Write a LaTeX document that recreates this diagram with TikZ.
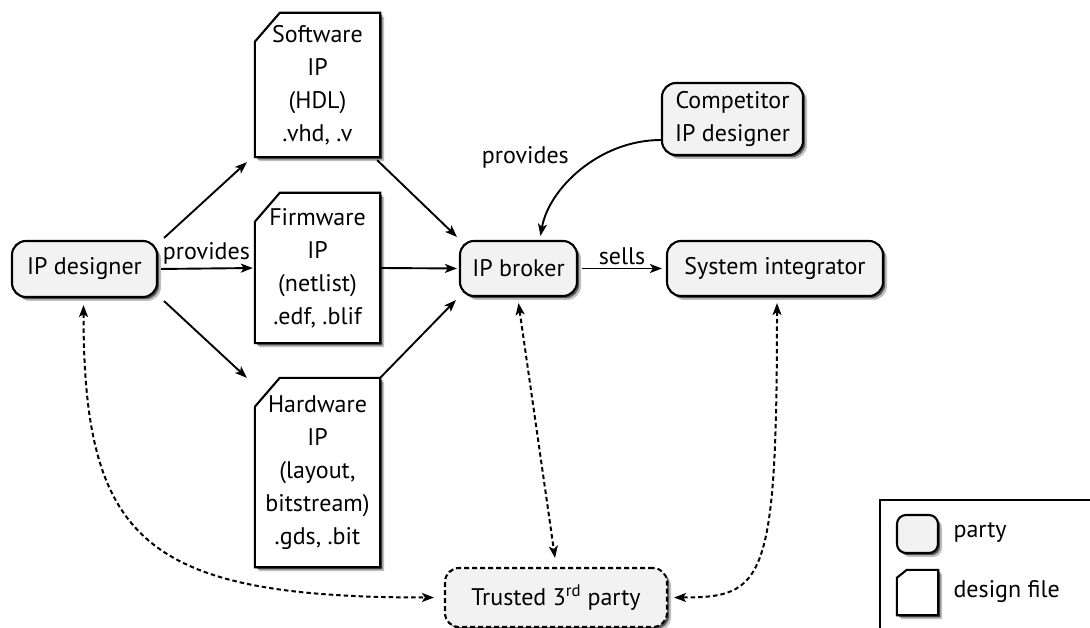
\documentclass[tikz,border=0pt]{standalone}
\usepackage{fontspec}
\setmainfont{PT Sans}
\usetikzlibrary{arrows.meta,shadows,backgrounds,calc}
\newcommand\docshape[3]{%
 \fill[black,opacity=0.25,transform canvas={xshift=4pt,yshift=-4pt}] ([yshift=-#3pt]#1.north west) -- ([xshift=#2pt]#1.north west) -- (#1.north east) -- (#1.south east) -- (#1.south west) -- cycle;
 \fill[black,opacity=0.55,transform canvas={xshift=2.2pt,yshift=-2.2pt}] ([yshift=-#3pt]#1.north west) -- ([xshift=#2pt]#1.north west) -- (#1.north east) -- (#1.south east) -- (#1.south west) -- cycle;
 \filldraw[fill=white,line width=2.1pt,line join=miter] ([yshift=-#3pt]#1.north west) -- ([xshift=#2pt]#1.north west) -- (#1.north east) -- (#1.south east) -- (#1.south west) -- cycle;
}
\begin{document}
\begin{tikzpicture}[x=1pt,y=-1pt,
 font=\fontsize{24}{33}\selectfont,
 party/.style={draw, line width=2.1pt, rounded corners=14pt, fill=black!5, inner sep=0pt, align=center,
   drop shadow={shadow xshift=4pt,shadow yshift=-4pt,opacity=0.25,fill=black},
   drop shadow={shadow xshift=2.2pt,shadow yshift=-2.2pt,opacity=0.55,fill=black}},
 docnode/.style={inner sep=0pt, minimum width=125pt, align=center},
 arr/.style={-{Stealth[length=12pt,width=9pt,inset=3pt]}, line width=1.9pt},
 dotarr/.style={{Stealth[length=12pt,width=9pt,inset=3pt]}-{Stealth[length=12pt,width=9pt,inset=3pt]}, line width=2pt, dash pattern=on 4.5pt off 3pt},
 lbl/.style={inner sep=3pt}
]
\useasboundingbox (0,0) rectangle (1090,628);

% parties
\node[party, minimum width=145pt, minimum height=56pt] (ipd) at (84.5,269) {IP designer};
\node[party, minimum width=117pt, minimum height=55pt] (br) at (518.5,268.5) {IP broker};
\node[party, minimum width=216pt, minimum height=55pt] (si) at (775,268.5) {System integrator};
\node[party, minimum width=141pt, minimum height=72pt] (comp) at (732.5,119) {Competitor\\IP designer};
\node[party, dash pattern=on 5pt off 3pt, minimum width=222pt, minimum height=59pt] (tr) at (556,597.5) {Trusted 3\textsuperscript{rd} party};

% design files
\node[docnode, minimum height=144pt] (sw) at (317.5,85) {Software\\IP\\(HDL)\\.vhd, .v};
\node[docnode, minimum height=150pt] (fw) at (317.5,268) {Firmware\\IP\\(netlist)\\.edf, .blif};
\node[docnode, minimum height=189pt] (hw) at (317.5,472.5) {Hardware\\IP\\(layout,\\bitstream)\\.gds, .bit};

% legend
\draw[line width=1.8pt] (880,500) rectangle (1100,640);
\node[party, rounded corners=9pt, minimum width=41pt, minimum height=38pt] (lp) at (917.5,534) {};
\node[anchor=west] (lpt) at (950,532) {party};
\node[docnode, minimum width=41pt, minimum height=45pt] (ld) at (917.5,592.5) {};
\node[anchor=west] (ldt) at (950,592) {design file};

\begin{scope}[on background layer]
 \docshape{sw}{25}{29}
 \docshape{fw}{25}{29}
 \docshape{hw}{25}{29}
 \docshape{ld}{10}{8}
\end{scope}

% connectors
\draw[arr] ([shift={(6,-2)}]ipd.north east) -- ([shift={(-8,5)}]sw.south west);
\draw[arr, shorten <=3pt, shorten >=2pt] (ipd.east) -- node[lbl, above] (lprov) {provides} (fw.west);
\draw[arr] ([shift={(6,3)}]ipd.south east) -- ([shift={(-8,0)}]hw.north west);
\draw[arr] ([shift={(-3,3)}]sw.south east) -- ([shift={(-2,-3)}]br.north west);
\draw[arr, shorten >=2pt] (fw.east) -- (br.west);
\draw[arr] (hw.north east) -- ([shift={(-3,3)}]br.south west);
\draw[arr] ([shift={(0,21)}]comp.west) .. controls +(-62,0) and +(8,-47) .. ([shift={(22,-4)}]br.north)
   node[pos=0.45, anchor=east, shift={(-14,-8)}] (lprov2) {provides};
\draw[arr, shorten <=4pt, shorten >=4pt] (br.east) -- node[lbl, above] (lsells) {sells} (si.west);

\draw[dotarr] ([shift={(-1,7)}]ipd.south) .. controls +(0,236) and +(-290,0) .. ([shift={(-10,0)}]tr.west);
\draw[dotarr] ([shift={(0,6)}]br.south) -- ([shift={(-1,-9)}]tr.north);
\draw[dotarr] ([shift={(2,6)}]si.south) .. controls +(0,280) and +(90,0) .. ([shift={(6,0)}]tr.east);
\end{tikzpicture}
\end{document}
